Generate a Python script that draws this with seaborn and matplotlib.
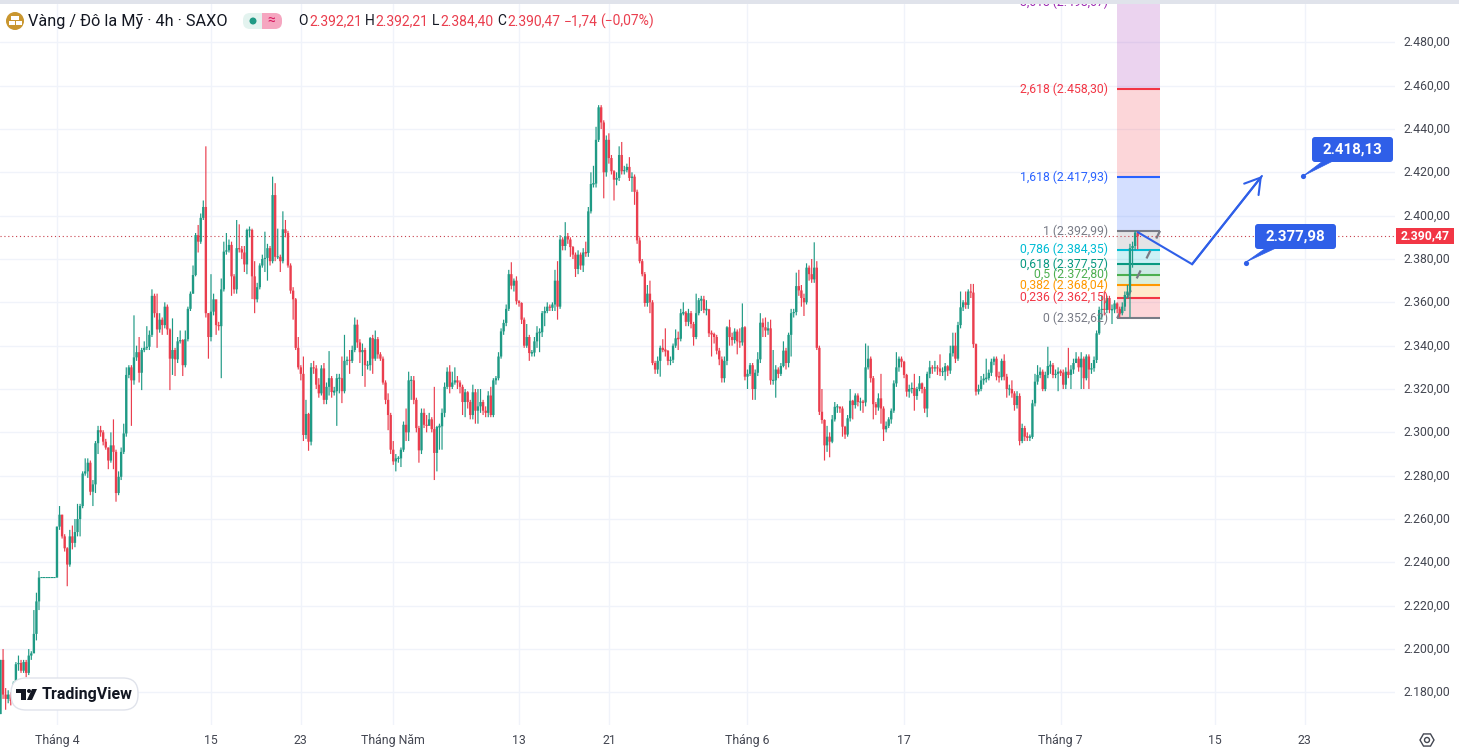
import numpy as np
import pandas as pd
import seaborn as sns
import matplotlib.pyplot as plt
from matplotlib.patches import Circle, FancyBboxPatch, Polygon, Rectangle, RegularPolygon
from matplotlib.transforms import Affine2D, ScaledTranslation

# candle data (4h bars)
closes = [
    2195, 2179, 2177, 2179, 2176, 2184, 2193, 2193.6, 2190, 2194,
    2189, 2197, 2198, 2207, 2222, 2233, 2233, 2233, 2233, 2233,
    2233, 2233, 2256.5, 2262, 2252, 2246.5, 2239, 2252, 2249, 2254,
    2260, 2266, 2281, 2282, 2286, 2272.6, 2276, 2295, 2301, 2300,
    2295.7, 2293, 2287, 2294, 2291, 2272, 2279.5, 2291, 2299.5, 2326.5,
    2330, 2324, 2334.6, 2337, 2327.5, 2338, 2339, 2339.5, 2345, 2363,
    2355, 2347.5, 2352, 2349.5, 2358, 2347.5, 2334, 2338, 2333.7, 2342,
    2342.6, 2331, 2343, 2357, 2364, 2372.6, 2391, 2388, 2399, 2404,
    2355, 2344, 2355.7, 2361.4, 2349.5, 2349, 2366, 2383.4, 2384, 2386.5,
    2372, 2366, 2385, 2384.5, 2383, 2377.5, 2393.4, 2393.4, 2372, 2361.4,
    2367, 2377, 2380, 2380.5, 2385, 2379, 2409.5, 2381, 2381, 2379,
    2393.7, 2392, 2377, 2365.4, 2361.4, 2339, 2330, 2327, 2298.8, 2308.5,
    2295.7, 2330, 2329.5, 2322, 2318, 2329.5, 2315, 2321, 2325, 2318.6,
    2319, 2325, 2325, 2319, 2333, 2333.5, 2333, 2338, 2349.7, 2341.5,
    2337, 2338, 2331, 2331, 2343.5, 2334, 2343, 2336, 2334, 2323,
    2315, 2308, 2292, 2286.6, 2288, 2288, 2292, 2303.5, 2300, 2324,
    2324, 2315, 2302, 2291.7, 2309, 2303.5, 2303, 2306, 2301.5, 2290.5,
    2302.5, 2302.8, 2309, 2321, 2328, 2321, 2323, 2324, 2323, 2321,
    2314, 2318.5, 2314, 2308, 2318.5, 2310, 2312, 2314, 2310, 2309,
    2317, 2308, 2324, 2325, 2335, 2346.6, 2350.5, 2357, 2373, 2367.7,
    2370, 2360.5, 2359.7, 2352, 2340, 2344, 2336.6, 2336.8, 2342, 2346,
    2346.2, 2355, 2356, 2358, 2357.5, 2359, 2370, 2358, 2389, 2386,
    2390.5, 2389, 2385.5, 2382, 2375.4, 2382, 2377, 2383, 2382.8, 2402,
    2414.6, 2414.8, 2435, 2450, 2443, 2420, 2435, 2426.6, 2420.5, 2416.6,
    2417.4, 2428, 2420.5, 2421, 2422.5, 2417.4, 2418, 2411, 2388.6, 2379,
    2373, 2359.7, 2364, 2360, 2332, 2329, 2333, 2339, 2338, 2337.6,
    2333, 2333.5, 2340, 2343.4, 2343.2, 2355, 2355.3, 2351, 2355, 2350,
    2344, 2355, 2361, 2361.4, 2356.5, 2356.8, 2345.7, 2345.4, 2344, 2337.7,
    2333.7, 2325, 2333, 2348.5, 2344, 2342.6, 2346.5, 2342, 2341.5, 2348.5,
    2325.7, 2327, 2331, 2320, 2327.5, 2333.7, 2350.6, 2348.5, 2347, 2348,
    2324, 2324, 2329, 2327, 2330.6, 2337.7, 2332, 2345, 2355, 2355.5,
    2367.5, 2365.5, 2362, 2360, 2376, 2373, 2370.6, 2376, 2339, 2309.5,
    2305.7, 2294, 2298, 2295.7, 2306, 2311.8, 2311.8, 2311, 2302.6, 2299,
    2306.5, 2314.6, 2312.6, 2317, 2314, 2314, 2313.8, 2330, 2334, 2325,
    2313, 2311.5, 2315.7, 2311, 2301.4, 2303, 2306, 2310, 2322.6, 2330,
    2334, 2332.6, 2326.5, 2318.8, 2320, 2320.5, 2316.8, 2320, 2322.6, 2320,
    2311, 2327, 2330, 2329.5, 2330, 2329.5, 2328, 2328, 2330.5, 2328.5,
    2336.5, 2340, 2334, 2349.5, 2357.7, 2360, 2358.8, 2365, 2364.5, 2340.7,
    2318.8, 2320, 2324, 2324.8, 2325, 2327.5, 2332.6, 2334, 2325.7, 2325.5,
    2333, 2325.7, 2320, 2320, 2318, 2312.6, 2316.8, 2296, 2302, 2298,
    2297.7, 2297.9, 2313.4, 2323.4, 2326.5, 2328, 2320, 2326.5, 2330.6, 2331,
    2326.5, 2327, 2328, 2327.6, 2322, 2328, 2326.5, 2329, 2332, 2334, 2330,
    2334, 2325, 2335, 2329, 2329.6, 2333.4, 2345.7, 2356.5, 2357, 2356.5,
    2362, 2356.5, 2356.7, 2359.5, 2357, 2355, 2358, 2363.4, 2365, 2385,
    2386, 2392.21, 2390.47,
]
highs = [
    2195, 2200, 2182, 2181, 2180, 2185, 2194, 2197, 2195, 2195,
    2195, 2200, 2199, 2218, 2226, 2236, 2233, 2233, 2233, 2233,
    2233, 2233, 2256.5, 2266, 2262, 2253, 2247, 2255, 2257, 2260,
    2267, 2267, 2282, 2288, 2288, 2287, 2278, 2296, 2303, 2303,
    2301, 2297, 2293, 2300, 2306, 2292, 2282, 2293, 2304, 2330,
    2331, 2331, 2354, 2340, 2344, 2339, 2342, 2349, 2347, 2366,
    2364, 2364, 2355, 2353, 2360, 2359, 2348, 2352.6, 2339, 2344,
    2347, 2343, 2347, 2358, 2365, 2377, 2392, 2395.7, 2401, 2407,
    2432, 2355, 2373, 2364, 2361, 2351, 2371, 2388, 2392, 2389,
    2388, 2373, 2398, 2396, 2386, 2386, 2394, 2395, 2394, 2379,
    2369, 2378, 2382, 2392.6, 2387, 2386, 2418, 2415, 2394, 2382,
    2402, 2398, 2393, 2378, 2367, 2362, 2344, 2331, 2335, 2315,
    2309, 2332, 2333, 2331, 2325, 2331, 2332, 2323, 2337.5, 2326,
    2321, 2327, 2327, 2335, 2345, 2335, 2338, 2340, 2353, 2352,
    2343, 2341, 2339, 2333, 2344, 2345, 2347, 2344, 2337, 2335,
    2324, 2318, 2309, 2296, 2290, 2289, 2293, 2305, 2311, 2328,
    2326, 2326, 2316, 2303, 2311, 2311, 2308, 2309, 2307, 2321,
    2303, 2304, 2311, 2323, 2330, 2331, 2328, 2330, 2326, 2324,
    2322, 2320, 2319, 2315, 2322, 2320, 2320, 2320, 2315, 2312,
    2319, 2321, 2325, 2326, 2337, 2348, 2352, 2359, 2375, 2378.5,
    2371, 2372, 2361, 2360, 2353, 2350, 2345, 2338, 2344, 2349,
    2348, 2356, 2358, 2360, 2359, 2360, 2375, 2379, 2391, 2390,
    2397, 2392, 2390, 2386, 2383, 2384, 2383, 2385, 2388, 2404,
    2420, 2423, 2441, 2451, 2451, 2444, 2437, 2438, 2428, 2421,
    2420, 2432, 2434, 2423, 2424, 2427, 2420, 2419, 2412, 2390,
    2380, 2374, 2368, 2370, 2361, 2333, 2335, 2340, 2343, 2348,
    2338, 2335, 2341, 2347.5, 2346.5, 2357, 2360, 2356, 2357, 2356,
    2351, 2364, 2362, 2363, 2363, 2361, 2357, 2347, 2346, 2345,
    2339, 2335, 2335, 2349, 2352, 2346, 2348, 2347.5, 2348, 2359.5,
    2349, 2329, 2332, 2332, 2329, 2337, 2355, 2352.6, 2353, 2351,
    2352, 2338, 2331, 2330, 2332, 2342, 2339, 2346, 2357, 2357,
    2373.7, 2375, 2368, 2364, 2378, 2377, 2380, 2387.7, 2379, 2340,
    2320, 2306, 2303, 2300, 2308, 2314, 2313, 2312, 2312, 2303,
    2308, 2320, 2315, 2318, 2318, 2316, 2315, 2341, 2340, 2335,
    2326, 2314, 2318, 2327, 2312, 2305, 2307, 2311, 2324, 2337,
    2335, 2335, 2333, 2327, 2322, 2323, 2327, 2321, 2326, 2323,
    2321, 2328, 2333, 2331, 2333, 2331, 2336, 2330, 2332, 2331,
    2340, 2346, 2346, 2351, 2365, 2361, 2365, 2366, 2368.5, 2368.5,
    2341, 2322, 2326, 2327, 2334, 2329, 2334, 2335, 2335, 2328,
    2334, 2336, 2327, 2322, 2324, 2319, 2319, 2318, 2304, 2303,
    2300, 2299, 2315, 2327, 2331, 2330, 2329, 2328, 2339.5, 2333,
    2332, 2329, 2330, 2329, 2329, 2330, 2339, 2331, 2334, 2337, 2335,
    2337, 2335, 2336, 2336, 2332, 2335, 2347, 2358, 2363, 2365,
    2363, 2363, 2359, 2361, 2360, 2358, 2360, 2365, 2368, 2387,
    2388, 2392.99, 2392.21,
]
lows = [
    2170, 2177, 2172, 2175, 2174, 2175, 2183, 2190, 2189, 2189,
    2187, 2188, 2195, 2204, 2204, 2218, 2233, 2233, 2233, 2233,
    2233, 2233, 2233, 2255, 2251, 2245, 2229, 2238, 2246, 2247,
    2252, 2252, 2265, 2280, 2279, 2271, 2266, 2272, 2290, 2298,
    2294, 2292, 2283, 2286, 2283, 2268, 2271, 2278, 2290, 2298,
    2325, 2303, 2322, 2333, 2323, 2319.5, 2337, 2338, 2338, 2344,
    2353, 2339, 2346, 2345, 2348, 2345, 2319.5, 2326.5, 2326, 2332,
    2341, 2326, 2330, 2342, 2356, 2364, 2372, 2383, 2387, 2398,
    2353, 2334, 2342, 2354, 2345, 2347, 2325, 2365, 2382, 2383,
    2363, 2364, 2364, 2383, 2380, 2374, 2373, 2390, 2361.5, 2355,
    2360, 2366, 2376, 2374, 2370, 2377, 2378, 2379, 2380, 2374,
    2378, 2390, 2376, 2364, 2352, 2338, 2329, 2324, 2296, 2297,
    2291.5, 2294, 2327, 2320, 2316, 2317, 2313, 2313, 2317, 2316,
    2317, 2303, 2318, 2313.5, 2318, 2331, 2327, 2332, 2337, 2339,
    2332, 2326, 2321, 2329, 2328.5, 2327, 2333, 2334, 2333, 2322,
    2313, 2301, 2290, 2285, 2282, 2286, 2284, 2291, 2296, 2296,
    2315, 2313, 2300, 2286, 2290, 2302, 2300, 2304, 2300, 2278,
    2282, 2292, 2292, 2307, 2320, 2318, 2320, 2322, 2320, 2318,
    2308, 2307, 2311, 2306, 2306, 2304, 2304, 2309, 2308, 2307,
    2307, 2307, 2307, 2322, 2324, 2334, 2345, 2349, 2356, 2366,
    2365, 2359, 2358, 2350, 2339, 2339, 2333, 2335, 2335, 2339,
    2337, 2344, 2349, 2355, 2356, 2356, 2356, 2352, 2357, 2384,
    2384, 2387, 2381, 2380, 2371.7, 2373, 2375, 2374, 2381, 2381,
    2401, 2413, 2413, 2434, 2440, 2408, 2418, 2424, 2419, 2407,
    2414, 2416, 2419, 2419, 2420, 2416, 2411, 2405, 2387, 2378,
    2372, 2358, 2358, 2355, 2331, 2327, 2327, 2325.7, 2337, 2335,
    2331, 2331, 2332, 2339, 2338, 2342, 2354, 2349, 2349, 2348,
    2340, 2343, 2354, 2356, 2355, 2354, 2344, 2335, 2341, 2336,
    2331, 2323, 2323, 2331, 2340, 2340, 2341, 2336, 2339, 2340,
    2324, 2320, 2326, 2315, 2315, 2326, 2332, 2344, 2344, 2345,
    2322, 2322, 2316, 2325, 2326, 2330, 2329, 2330, 2335, 2353,
    2354, 2363, 2358, 2353.7, 2359, 2370, 2369, 2369, 2338, 2308,
    2304, 2287, 2291, 2288.5, 2295, 2305, 2309, 2309, 2298, 2297,
    2298, 2305, 2306, 2311, 2312, 2310, 2309, 2312, 2329, 2323,
    2306, 2308, 2310, 2304, 2296, 2300, 2302, 2304, 2309, 2321,
    2328, 2330, 2325, 2316.5, 2316, 2318, 2310, 2315, 2319, 2318,
    2309, 2307, 2325, 2327, 2328, 2326.5, 2326, 2326, 2324, 2326,
    2327, 2335, 2332, 2333, 2348, 2356, 2357, 2357, 2362, 2339,
    2317, 2317.5, 2319, 2322, 2323, 2324, 2326, 2331, 2324, 2323,
    2324, 2324, 2316, 2317, 2316, 2310, 2311, 2294, 2295, 2296,
    2296, 2296, 2297, 2312, 2322, 2325, 2319, 2319, 2325, 2327,
    2325, 2325, 2319, 2326, 2320, 2320, 2325, 2320, 2327, 2332, 2328,
    2320, 2320, 2324, 2320, 2327, 2328, 2332, 2345, 2352, 2354,
    2355, 2355, 2350, 2355, 2355, 2353, 2354, 2356, 2362, 2353,
    2376, 2384, 2384.40,
]
first_open = 2170

# axes: ticks and labels
price_ticks = [2180, 2200, 2220, 2240, 2260, 2280, 2300, 2320, 2340, 2360, 2380, 2400, 2420, 2440, 2460, 2480]
price_labels = ['2.180,00', '2.200,00', '2.220,00', '2.240,00', '2.260,00', '2.280,00', '2.300,00', '2.320,00',
                '2.340,00', '2.360,00', '2.380,00', '2.400,00', '2.420,00', '2.440,00', '2.460,00', '2.480,00']
time_ticks = [22, 82, 117, 153, 202, 237, 291, 352, 413, 473, 508]
time_labels = ['Tháng 4', '15', '23', 'Tháng Năm', '13', '21', 'Tháng 6', '17', 'Tháng 7', '15', '23']

# fibonacci levels
fib_ratios = ['0', '0,236', '0,382', '0,5', '0,618', '0,786', '1', '1,618', '2,618', '3,618']
fib_prices = [2352.62, 2362.15, 2368.04, 2372.80, 2377.57, 2384.35, 2392.99, 2417.93, 2458.30, 2498.67]
fib_labels = ['2.352,62', '2.362,15', '2.368,04', '2.372,80', '2.377,57', '2.384,35', '2.392,99', '2.417,93',
              '2.458,30', '2.498,67']
fib_colors = ['#787b86', '#f23645', '#ff9800', '#4caf50', '#089981', '#00bcd4', '#787b86', '#2962ff', '#f23645',
              '#9c27b0']
fib_left, fib_right = 435, 451.7

# projected path and targets
path_bars = [443, 464.2, 491.4]
path_prices = [2392.4, 2377.6, 2418.3]
target_bars = [507.3, 485.2]
target_prices = [2418.13, 2377.98]
target_labels = ['2.418,13', '2.377,98']

last_price = 2390.47
last_label = '2.390,47'

GREEN = '#1f9a85'
RED = '#ea3e4e'
BLUE = '#2f5fe8'
W, H = 1459, 748
BAR_PX = 2.567
PRICE_PX = 2.167

sns.set_theme(style='white')
plt.rcParams['font.family'] = ['Roboto', 'DejaVu Sans']

# build long tables for seaborn, one wick and one body per bar
opens = [first_open] + closes[:-1]
candles = pd.DataFrame({'open': opens, 'high': highs, 'low': lows, 'close': closes})
candles['bar'] = np.arange(len(candles))
candles['side'] = np.where(candles['close'] < candles['open'], 'down', 'up')
candles['top'] = candles[['open', 'close']].max(axis=1)
candles['bot'] = candles[['open', 'close']].min(axis=1)
thin = candles['top'] - candles['bot'] < 0.5
candles.loc[thin, 'top'] += 0.25
candles.loc[thin, 'bot'] -= 0.25
wicks = candles.melt(id_vars=['bar', 'side'], value_vars=['high', 'low'], value_name='price')
bodies = candles.melt(id_vars=['bar', 'side'], value_vars=['top', 'bot'], value_name='price')

fig = plt.figure(figsize=(W / 100, H / 100), dpi=100, facecolor='white')
ax = fig.add_axes([0, (H - 725) / H, 1395 / W, 721 / H])
px = Affine2D().scale(1, -1).translate(0, H)

# fib bands, lines and labels
for i in range(len(fib_prices) - 1):
    ax.fill_between([fib_left, fib_right], fib_prices[i], fib_prices[i + 1], color=fib_colors[i + 1], alpha=0.2,
                    lw=0, zorder=1)
for i in range(len(fib_prices)):
    ax.plot([fib_left, fib_right], [fib_prices[i], fib_prices[i]], color=fib_colors[i], lw=1.5, zorder=2,
            solid_capstyle='butt')
    ax.text(fib_left - 3.4, fib_prices[i], f'{fib_ratios[i]} ({fib_labels[i]})', color=fib_colors[i], fontsize=8.8,
            ha='right', va='center', zorder=6, clip_on=True)
ax.plot([fib_left, fib_right], [fib_prices[0], fib_prices[6]], color='#787b86', lw=1.6, ls=(0, (4, 6)), zorder=2)

ax.axhline(last_price, color='#c8404c', lw=0.8, ls=(0, (1, 2.5)), zorder=2)

palette = {'up': GREEN, 'down': RED}
sns.lineplot(data=wicks, x='bar', y='price', hue='side', units='bar', estimator=None, palette=palette, lw=0.85,
             legend=False, ax=ax, zorder=4, solid_capstyle='butt', snap=False)
sns.lineplot(data=bodies, x='bar', y='price', hue='side', units='bar', estimator=None, palette=palette, lw=1.7,
             legend=False, ax=ax, zorder=5, solid_capstyle='butt', snap=False)

# projected path with arrow head
ax.plot(path_bars, path_prices, color=BLUE, lw=1.5, zorder=6, solid_joinstyle='miter')
ax.annotate('', xy=(path_bars[2], path_prices[2]), xytext=(path_bars[1], path_prices[1]), zorder=6,
            arrowprops=dict(arrowstyle='->,head_length=0.9,head_width=0.55', color=BLUE, lw=1.5, shrinkA=0, shrinkB=0))
sns.scatterplot(x=target_bars, y=target_prices, color=BLUE, s=14, ax=ax, zorder=6, linewidth=0)

ax.set_xlim(-0.5 / BAR_PX, (1395 - 0.5) / BAR_PX)
ax.set_ylim(2480 - 682.7 / PRICE_PX, 2480 + 38.3 / PRICE_PX)
ax.set_xticks(time_ticks, time_labels)
ax.set_yticks(price_ticks, price_labels)
ax.grid(True, color='#f0f3fa', lw=1)
ax.set_axisbelow(True)
ax.yaxis.tick_right()
ax.tick_params(axis='y', length=0, pad=6.2, labelsize=8.8, labelcolor='#434651')
ax.tick_params(axis='x', length=0, pad=6.8, labelsize=8.8, labelcolor='#434651')
ax.set_xlabel('')
ax.set_ylabel('')
sns.despine(ax=ax, left=True, bottom=True, right=True, top=True)

# price labels sit a touch above their grid lines
up_1px = ScaledTranslation(0, 1.2 / 100, fig.dpi_scale_trans)
for lbl in ax.get_yticklabels():
    lbl.set_transform(lbl.get_transform() + up_1px)

# top strip
fig.add_artist(Rectangle((0, 0), W, 4, transform=px, fc='#e0e3eb', ec='none'))

# legend row
fig.add_artist(Circle((15, 21), 9, transform=px, fc='#c9962f', ec='none'))
fig.add_artist(Rectangle((11, 16), 8, 3.5, transform=px, fc='white', ec='none'))
fig.add_artist(Rectangle((8.5, 21), 6, 3.5, transform=px, fc='white', ec='none'))
fig.add_artist(Rectangle((15.5, 21), 6, 3.5, transform=px, fc='white', ec='none'))
fig.text(28, 21, 'Vàng / Đô la Mỹ · 4h · SAXO', transform=px, fontsize=11.7, color='#131722', va='center')
fig.add_artist(Rectangle((250, 13), 12, 16, transform=px, fc='#e3f3ef', ec='none'))
fig.add_artist(Rectangle((262, 13), 12, 16, transform=px, fc='#f5a6c0', ec='none'))
fig.add_artist(FancyBboxPatch((268, 13), 14, 16, boxstyle='round,pad=0,rounding_size=7', transform=px, fc='#f5a6c0',
                              ec='none'))
fig.add_artist(FancyBboxPatch((243, 13), 14, 16, boxstyle='round,pad=0,rounding_size=7', transform=px, fc='#e3f3ef',
                              ec='none'))
fig.add_artist(Circle((253, 21), 3.5, transform=px, fc='#1f9a85', ec='none'))
fig.text(271, 21, '≈', transform=px, fontsize=10, color='#d81b60', ha='center', va='center')
for x, s, c in [(298, 'O', '#131722'), (309.5, '2.392,21', RED), (365, 'H', '#131722'), (375.5, '2.392,21', RED),
                (432, 'L', '#131722'), (440, '2.384,40', RED), (497.5, 'C', '#131722'), (507, '2.390,47', RED),
                (564, '−1,74', RED), (600, '(−0,07%)', RED)]:
    fig.text(x, 21, s, transform=px, fontsize=10, color=c, va='center')

# target callouts
for box_x, box_y, tail, label in [(1312, 137, [(1303, 176), (1323, 161), (1333, 161)], target_labels[0]),
                                  (1255, 224, [(1246, 262), (1266, 248), (1276, 248)], target_labels[1])]:
    fig.add_artist(Polygon(tail, transform=px, fc=BLUE, ec=BLUE, lw=0.5))
    fig.add_artist(FancyBboxPatch((box_x, box_y), 81, 25, boxstyle='round,pad=0,rounding_size=3', transform=px, fc=BLUE,
                                  ec='none'))
    fig.text(box_x + 40.5, box_y + 12.5, label, transform=px, fontsize=10.8, fontweight='bold', color='white',
             ha='center', va='center')

# last price tag
fig.add_artist(Rectangle((1396, 228), 58, 16, transform=px, fc='#f23645', ec='none'))
fig.text(1425, 236, last_label, transform=px, fontsize=8.8, fontweight='bold', color='white', ha='center', va='center')

# TradingView badge
fig.add_artist(FancyBboxPatch((11, 678), 127, 32, boxstyle='round,pad=0,rounding_size=15', transform=px, fc='white',
                              ec='#e0e3eb', lw=1, zorder=8))
fig.add_artist(Polygon([(16, 689), (26, 689), (26, 700), (21, 700), (21, 693), (16, 693)], transform=px, fc='#131722',
                       ec='none', zorder=9))
fig.add_artist(Circle((29, 691), 2, transform=px, fc='#131722', ec='none', zorder=9))
fig.add_artist(Polygon([(32, 689), (37, 689), (32, 700), (27, 700)], transform=px, fc='#131722', ec='none', zorder=9))
fig.text(42, 695, 'TradingView', transform=px, fontsize=11.5, fontweight='bold', color='#131722', va='center', zorder=9)

# settings icon
fig.add_artist(RegularPolygon((1427, 740), 6, radius=7, orientation=np.pi / 6, transform=px, fc='none', ec='#434651',
                              lw=1))
fig.add_artist(Circle((1427, 740), 2.5, transform=px, fc='none', ec='#434651', lw=1))

plt.savefig('out.png', dpi=100, facecolor='white')
